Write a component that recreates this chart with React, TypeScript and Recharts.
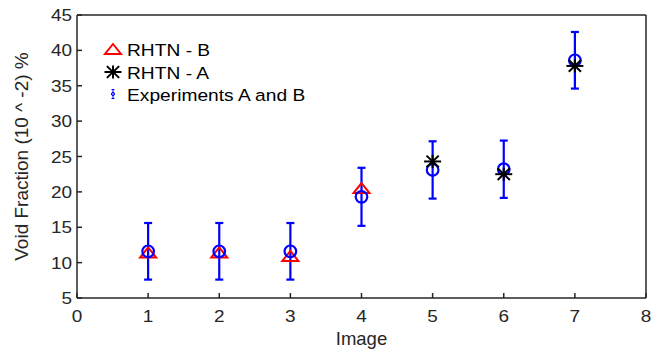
import { ScatterChart, Scatter, XAxis, YAxis, ErrorBar } from "recharts";

const images = [1, 2, 3, 4, 5, 6, 7];
const expMean = [11.6, 11.6, 11.6, 19.3, 23.1, 23.2, 38.6];
const expErr = [4, 4, 4, 4.1, 4.05, 4.05, 4];

const rhtnBImages = [1, 2, 3, 4];
const rhtnBValues = [11.3, 11.3, 10.8, 20.4];

const rhtnAImages = [5, 6, 7];
const rhtnAValues = [24.3, 22.5, 37.8];

const xTicks = [0, 1, 2, 3, 4, 5, 6, 7, 8];
const yTicks = [5, 10, 15, 20, 25, 30, 35, 40, 45];

const legendLabels = ["RHTN - B", "RHTN - A", "Experiments A and B"];

const FONT = "'Liberation Sans', Arial, sans-serif";
const BLUE = "#0000ff";
const RED = "#ff0000";
const TEXT = "#262626";
const AXIS = "#262626";
const SX = 1.15; // the reference text is a bit wider than plain Arial

const expData = images.map((x, i) => ({ x, y: expMean[i], err: expErr[i] }));
const bData = rhtnBImages.map((x, i) => ({ x, y: rhtnBValues[i] }));
const aData = rhtnAImages.map((x, i) => ({ x, y: rhtnAValues[i] }));

const TICK_LEN = 5;
const MARGIN = 8;

function Triangle({ cx, cy }: any) {
  const h = 10;
  const w = 8;
  return (
    <path
      d={`M${cx},${cy - h * 0.6} L${cx + w},${cy + h * 0.4} L${cx - w},${cy + h * 0.4} Z`}
      fill="none"
      stroke={RED}
      strokeWidth={2}
      strokeLinejoin="miter"
    />
  );
}

function Star({ cx, cy }: any) {
  const rx = 8.5;
  const ry = 6.5;
  const dx = rx * 0.72;
  const dy = ry * 0.9;
  return (
    <g stroke="#000" strokeWidth={2}>
      <line x1={cx - rx} y1={cy} x2={cx + rx} y2={cy} />
      <line x1={cx} y1={cy - ry} x2={cx} y2={cy + ry} />
      <line x1={cx - dx} y1={cy - dy} x2={cx + dx} y2={cy + dy} />
      <line x1={cx - dx} y1={cy + dy} x2={cx + dx} y2={cy - dy} />
    </g>
  );
}

function Circle({ cx, cy }: any) {
  return <circle cx={cx} cy={cy} r={5.8} fill="none" stroke={BLUE} strokeWidth={2.2} />;
}

// tick label plus inward tick mark
function BottomTick({ x, y, payload }: any) {
  const axisY = y - MARGIN;
  return (
    <g>
      <line x1={x} y1={axisY} x2={x} y2={axisY - TICK_LEN} stroke={AXIS} strokeWidth={1.5} />
      <text
        transform={`translate(${x},${axisY + 24}) scale(${SX},1)`}
        textAnchor="middle"
        fill={TEXT}
        fontSize={16.5}
        fontFamily={FONT}
      >
        {payload.value}
      </text>
    </g>
  );
}

function LeftTick({ x, y, payload }: any) {
  const axisX = x + MARGIN;
  return (
    <g>
      <line x1={axisX} y1={y} x2={axisX + TICK_LEN} y2={y} stroke={AXIS} strokeWidth={1.5} />
      <text
        transform={`translate(${axisX - 5},${y + 6}) scale(${SX},1)`}
        textAnchor="end"
        fill={TEXT}
        fontSize={16.5}
        fontFamily={FONT}
      >
        {payload.value}
      </text>
    </g>
  );
}

function TopTick({ x, y }: any) {
  return <line x1={x} y1={y} x2={x} y2={y + TICK_LEN} stroke={AXIS} strokeWidth={1.5} />;
}

function RightTick({ x, y }: any) {
  return <line x1={x} y1={y} x2={x - TICK_LEN} y2={y} stroke={AXIS} strokeWidth={1.5} />;
}

function LegendOverlay() {
  const rows = [49, 72, 94];
  return (
    <svg
      width={662}
      height={350}
      style={{ position: "absolute", left: 0, top: 0, pointerEvents: "none" }}
    >
      <Triangle cx={113} cy={rows[0] + 1} />
      <Star cx={113} cy={rows[1]} />
      <g stroke={BLUE} strokeWidth={1}>
        <line x1={113} y1={rows[2] - 4.5} x2={113} y2={rows[2] + 4.5} />
        <line x1={111.5} y1={rows[2] - 4.5} x2={114.5} y2={rows[2] - 4.5} />
        <line x1={111.5} y1={rows[2] + 4.5} x2={114.5} y2={rows[2] + 4.5} />
        <circle cx={113} cy={rows[2]} r={1.6} fill="none" />
      </g>
      {legendLabels.map((t, i) => (
        <text
          key={t}
          transform={`translate(127,${rows[i] + 6.5}) scale(1.13,1)`}
          fill="#000"
          fontSize={17}
          fontFamily={FONT}
        >
          {t}
        </text>
      ))}
    </svg>
  );
}

export default function App() {
  return (
    <div style={{ position: "absolute", left: 0, top: 0, width: 662, height: 350, background: "#fff" }}>
      <ScatterChart width={662} height={350} margin={{ top: 14, right: 15, bottom: 0, left: 17 }}>
        <XAxis
          xAxisId="bottom"
          type="number"
          dataKey="x"
          domain={[0, 8]}
          ticks={xTicks}
          height={52}
          tickSize={0}
          tickMargin={MARGIN}
          tickLine={false}
          tick={<BottomTick />}
          axisLine={{ stroke: AXIS, strokeWidth: 1.5 }}
          label={{ value: "Image", position: "insideBottom", offset: 5, fill: TEXT, fontSize: 18.5, fontFamily: FONT }}
        />
        <XAxis
          xAxisId="top"
          orientation="top"
          type="number"
          dataKey="x"
          domain={[0, 8]}
          ticks={xTicks}
          height={1}
          tickSize={0}
          tickLine={false}
          tick={<TopTick />}
          axisLine={{ stroke: AXIS, strokeWidth: 1.5 }}
        />
        <YAxis
          yAxisId="left"
          type="number"
          dataKey="y"
          domain={[5, 45]}
          ticks={yTicks}
          width={60}
          tickSize={0}
          tickMargin={MARGIN}
          tickLine={false}
          tick={<LeftTick />}
          axisLine={{ stroke: AXIS, strokeWidth: 1.5 }}
          label={{
            value: "Void Fraction (10 ^ -2) %",
            angle: -90,
            position: "insideLeft",
            offset: 0,
            dx: 4,
            fill: TEXT,
            fontSize: 19,
            fontFamily: FONT,
            style: { textAnchor: "middle" },
          }}
        />
        <YAxis
          yAxisId="right"
          orientation="right"
          type="number"
          dataKey="y"
          domain={[5, 45]}
          ticks={yTicks}
          width={1}
          tickSize={0}
          tickLine={false}
          tick={<RightTick />}
          axisLine={{ stroke: AXIS, strokeWidth: 1.5 }}
        />
        <Scatter
          name="RHTN - B"
          data={bData}
          xAxisId="bottom"
          yAxisId="left"
          shape={<Triangle />}
          isAnimationActive={false}
        />
        <Scatter
          name="Experiments A and B"
          data={expData}
          xAxisId="bottom"
          yAxisId="left"
          shape={<Circle />}
          isAnimationActive={false}
        >
          <ErrorBar dataKey="err" direction="y" width={4} stroke={BLUE} strokeWidth={2.2} />
        </Scatter>
        <Scatter
          name="RHTN - A"
          data={aData}
          xAxisId="bottom"
          yAxisId="left"
          shape={<Star />}
          isAnimationActive={false}
        />
      </ScatterChart>
      <LegendOverlay />
    </div>
  );
}
